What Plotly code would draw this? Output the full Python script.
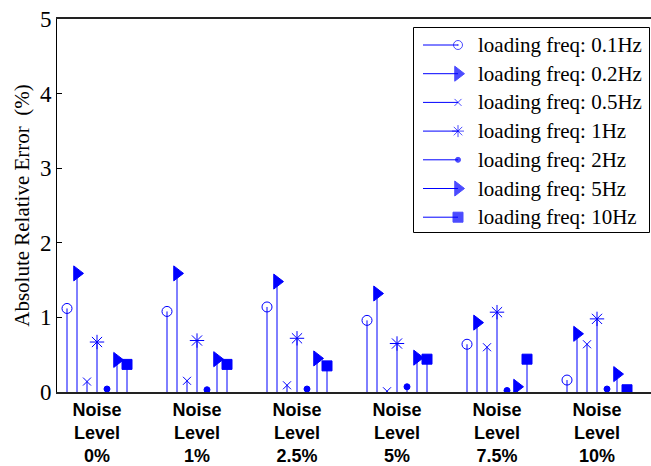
import plotly.graph_objects as go

# Noise levels (x groups) and loading frequencies (series)
noise_labels = ["Noise<br>Level<br>0%", "Noise<br>Level<br>1%", "Noise<br>Level<br>2.5%",
                "Noise<br>Level<br>5%", "Noise<br>Level<br>7.5%", "Noise<br>Level<br>10%"]
freq_names = ["0.1Hz", "0.2Hz", "0.5Hz", "1Hz", "2Hz", "5Hz", "10Hz"]

# Absolute relative error (%) per noise level, one list per loading frequency
err_0p1hz = [1.12, 1.08, 1.14, 0.96, 0.64, 0.16]
err_0p2hz = [1.59, 1.59, 1.48, 1.32, 0.93, 0.78]
err_0p5hz = [0.14, 0.15, 0.09, 0.01, 0.60, 0.64]
err_1hz = [0.67, 0.69, 0.72, 0.65, 1.07, 0.98]
err_2hz = [0.04, 0.03, 0.04, 0.07, 0.02, 0.04]
err_5hz = [0.43, 0.44, 0.45, 0.46, 0.07, 0.24]
err_10hz = [0.37, 0.37, 0.35, 0.44, 0.44, 0.03]

series = [err_0p1hz, err_0p2hz, err_0p5hz, err_1hz, err_2hz, err_5hz, err_10hz]
offsets = [-0.3, -0.2, -0.1, 0.0, 0.1, 0.2, 0.3]
symbols = ["circle-open", "triangle-right", "x-thin-open", "asterisk-open",
           "circle", "triangle-right", "square"]
sizes = [10, 13, 8, 12, 6, 13, 10]
leg_symbols = ["circle-open-dot", "triangle-right", "x-thin-open", "asterisk-open",
               "circle", "triangle-right", "square"]
leg_sizes = [9, 13, 7, 10, 5, 13, 10]

BLUE = "#0000FF"
W, H = 651, 466
L, R, T, B = 57, 0, 19, 74

fig = go.Figure()

group_pos = list(range(1, len(noise_labels) + 1))
for vals, off, sym, sz in zip(series, offsets, symbols, sizes):
    xs = [g + off for g in group_pos]
    fig.add_trace(go.Scatter(
        x=xs, y=vals, mode="markers",
        marker=dict(symbol=sym, size=sz, color=BLUE,
                    line=dict(color=BLUE, width=1)),
        error_y=dict(type="data", symmetric=False, array=[0] * len(vals),
                     arrayminus=vals, width=0, thickness=1, color=BLUE),
        showlegend=False, hoverinfo="skip",
    ))

# Key box drawn in pixel space on an overlay axis pair
px0, px1 = L, W - R
py_bot, py_top = H - B, T
row_y = [45 + i * 28.7 for i in range(len(freq_names))]
line_x0, marker_x, text_x = 423, 458, 476

fig.add_trace(go.Scatter(
    x=[marker_x] * len(freq_names), y=row_y, mode="markers",
    marker=dict(symbol=leg_symbols, size=leg_sizes, color=BLUE,
                line=dict(color=BLUE, width=1)),
    xaxis="x2", yaxis="y2", showlegend=False, hoverinfo="skip",
))

shapes = [dict(type="rect", xref="x2", yref="y2", x0=413.5, x1=649.5, y0=27.5, y1=232.5,
               line=dict(color="black", width=1), fillcolor="white", layer="below")]
annotations = []
for name, yy in zip(freq_names, row_y):
    shapes.append(dict(type="line", xref="x2", yref="y2", x0=line_x0, x1=marker_x,
                       y0=yy, y1=yy, line=dict(color=BLUE, width=1)))
    annotations.append(dict(xref="x2", yref="y2", x=text_x, y=yy, xanchor="left",
                            yanchor="middle", showarrow=False,
                            text=f"loading freq: {name}",
                            font=dict(family="Liberation Serif", size=21, color="black")))

fig.update_layout(
    width=W, height=H,
    margin=dict(l=L, r=R, t=T, b=B),
    paper_bgcolor="white", plot_bgcolor="white",
    showlegend=False,
    shapes=shapes, annotations=annotations,
    xaxis=dict(range=[0.6, 0.6 + (W - L - R) / 100.0], tickvals=group_pos,
               ticktext=[f"<b>{t}</b>" for t in noise_labels],
               tickfont=dict(family="Liberation Sans", size=18, color="black"),
               ticks="", showgrid=False, zeroline=False,
               showline=True, linecolor="#222", linewidth=2, mirror=True),
    yaxis=dict(range=[0, 5], tickvals=[0, 1, 2, 3, 4, 5],
               tickfont=dict(family="Liberation Serif", size=23, color="black"),
               ticks="inside", ticklen=5, tickcolor="black",
               showgrid=False, zeroline=False,
               showline=True, linecolor="black", linewidth=1,
               title=dict(text="Absolute Relative Error  (%)", standoff=4,
                          font=dict(family="Liberation Serif", size=21, color="black"))),
    xaxis2=dict(range=[px0, px1], overlaying="x", anchor="y2", visible=False),
    yaxis2=dict(range=[py_bot, py_top], overlaying="y", anchor="x2", visible=False),
)

fig.write_html("out.html")
